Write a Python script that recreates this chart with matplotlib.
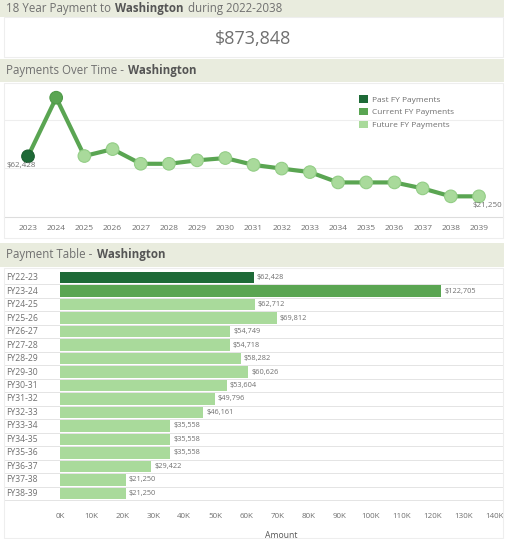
import matplotlib
matplotlib.use("Agg")
import matplotlib.pyplot as plt
from matplotlib.patches import Rectangle, Patch
from matplotlib.text import Annotation
from matplotlib import transforms

# data
years = ["2023", "2024", "2025", "2026", "2027", "2028", "2029", "2030", "2031",
         "2032", "2033", "2034", "2035", "2036", "2037", "2038", "2039"]
fy_labels = ["FY22-23", "FY23-24", "FY24-25", "FY25-26", "FY26-27", "FY27-28",
             "FY28-29", "FY29-30", "FY30-31", "FY31-32", "FY32-33", "FY33-34",
             "FY34-35", "FY35-36", "FY36-37", "FY37-38", "FY38-39"]
payments = [62428, 122705, 62712, 69812, 54749, 54718, 58282, 60626, 53604,
            49796, 46161, 35558, 35558, 35558, 29422, 21250, 21250]
status = ["Past"] + ["Current"] + ["Future"] * 15
total_label = "$873,848"
state = "Washington"

colors = {"Past": "#1e6a37", "Current": "#5aa552", "Future": "#a9da9b"}
legend_names = {"Past": "Past FY Payments", "Current": "Current FY Payments",
                "Future": "Future FY Payments"}
header_bg = "#e9ecde"
txt = "#707070"
grid_c = "#e4e4e4"

plt.rcParams["font.family"] = ["Open Sans", "DejaVu Sans"]

W, H = 507, 539
fig = plt.figure(figsize=(W / 100, H / 100), dpi=100)
fig.set_facecolor("white")


def fx(x):
    return x / W


def fy(y):
    return 1 - y / H


def box(x0, y0, x1, y1):
    return [x0 / W, 1 - y1 / H, (x1 - x0) / W, (y1 - y0) / H]


def follow(prev, s, color, weight="normal"):
    # next piece of a title, placed right after the previous one
    a = Annotation(s, xy=(1, 0.5), xycoords=prev, xytext=(3, 0),
                   textcoords="offset points", va="center", ha="left",
                   fontsize=8.3, color=color, fontweight=weight,
                   annotation_clip=False)
    fig.add_artist(a)
    return a


def header(y0, y1, pre, bold, post=None):
    fig.add_artist(Rectangle((fx(0), fy(y1)), 504 / W, (y1 - y0) / H,
                             transform=fig.transFigure, color=header_bg, lw=0))
    t1 = fig.text(fx(6), fy((y0 + y1) / 2), pre, fontsize=8.3, color=txt,
                  va="center")
    b = follow(t1, bold, "#555555", "bold")
    if post:
        follow(b, post, txt)


# panel borders
for y0, y1 in [(17, 57), (83, 238), (268, 538)]:
    fig.add_artist(Rectangle((fx(4), fy(y1)), 499 / W, (y1 - y0) / H,
                             transform=fig.transFigure, fill=False,
                             ec="#eeeeee", lw=0.8))

header(0, 17, "18 Year Payment to", state, "during 2022-2038")
fig.text(fx(253), fy(39), total_label, fontsize=13, color="#707070",
         ha="center", va="center")
header(59, 82, "Payments Over Time -", state)
header(243, 267, "Payment Table -", state)

# ---- line chart ----
ax = fig.add_axes(box(4, 84, 503, 217))
xs = list(range(len(years)))
px = 28.19
ax.set_xlim(-24 / px, 16 + 24 / px)
ax.set_ylim(0, 136800)
for v in [50000, 100000]:
    ax.axhline(v, color="#eeeeee", lw=0.8, zorder=0)
ax.plot(xs, payments, color=colors["Current"], lw=3, zorder=2,
        solid_joinstyle="round")
ax.scatter(xs, payments, s=82, c=[colors[s] for s in status],
           edgecolors=["#1a5e30", "#4f9a48"] + ["#93cd86"] * 15,
           linewidths=0.8, zorder=3)
ax.annotate("${:,}".format(payments[0]), (xs[0], payments[0]),
            xytext=(-7, -9), textcoords="offset pixels", ha="center",
            va="center", fontsize=5.8, color=txt)
ax.annotate("${:,}".format(payments[-1]), (xs[-1], payments[-1]),
            xytext=(8, -9), textcoords="offset pixels", ha="center",
            va="center", fontsize=5.8, color=txt)
ax.set_xticks(xs)
ax.set_xticklabels(years, fontsize=6, color=txt)
ax.tick_params(axis="x", length=0, pad=6)
ax.set_yticks([])
for side in ["top", "left", "right"]:
    ax.spines[side].set_visible(False)
ax.spines["bottom"].set_color("#dddddd")
ax.spines["bottom"].set_linewidth(0.8)
ax.set_facecolor("none")

handles = [Patch(facecolor=colors[k], edgecolor="none", label=legend_names[k])
           for k in ["Past", "Current", "Future"]]
leg = fig.legend(handles=handles, loc="upper left",
                 bbox_to_anchor=(fx(355), fy(91)), frameon=False,
                 fontsize=6, handlelength=1.0, handleheight=1.0,
                 handletextpad=0.6, labelspacing=0.5, borderpad=0)
for t in leg.get_texts():
    t.set_color(txt)

# ---- bar chart ----
bx = fig.add_axes(box(60, 271, 503, 500))
rows = list(range(len(fy_labels)))
bx.barh(rows, payments, height=0.85, color=[colors[s] for s in status], zorder=2)
bx.set_ylim(len(rows) - 0.5, -0.5)
bx.set_xlim(0, 142600)
ext = -56 / 443
for r in rows[1:]:
    bx.axhline(r - 0.5, xmin=ext, xmax=1, color=grid_c, lw=0.7,
               clip_on=False, zorder=1)
bx.axhline(len(rows) - 0.5, xmin=ext, xmax=1, color=grid_c, lw=0.7,
           clip_on=False, zorder=1)
for r, v in zip(rows, payments):
    bx.annotate("${:,}".format(v), (v, r), xytext=(3, 0),
                textcoords="offset pixels", ha="left", va="center",
                fontsize=5.3, color=txt)
lab_tr = transforms.blended_transform_factory(fig.transFigure, bx.transData)
for r, lab in zip(rows, fy_labels):
    bx.text(fx(6), r, lab, transform=lab_tr, ha="left", va="center",
            fontsize=6.2, color=txt)
ticks = list(range(0, 140001, 10000))
bx.set_xticks(ticks)
bx.set_xticklabels([f"{t // 1000}K" for t in ticks], fontsize=5.8, color=txt)
bx.tick_params(axis="x", length=0, pad=9)
bx.set_yticks([])
for s in bx.spines.values():
    s.set_visible(False)
bx.set_xlabel("Amount", fontsize=6.2, color="#555555", labelpad=8)

fig.savefig("out.png", dpi=100)
